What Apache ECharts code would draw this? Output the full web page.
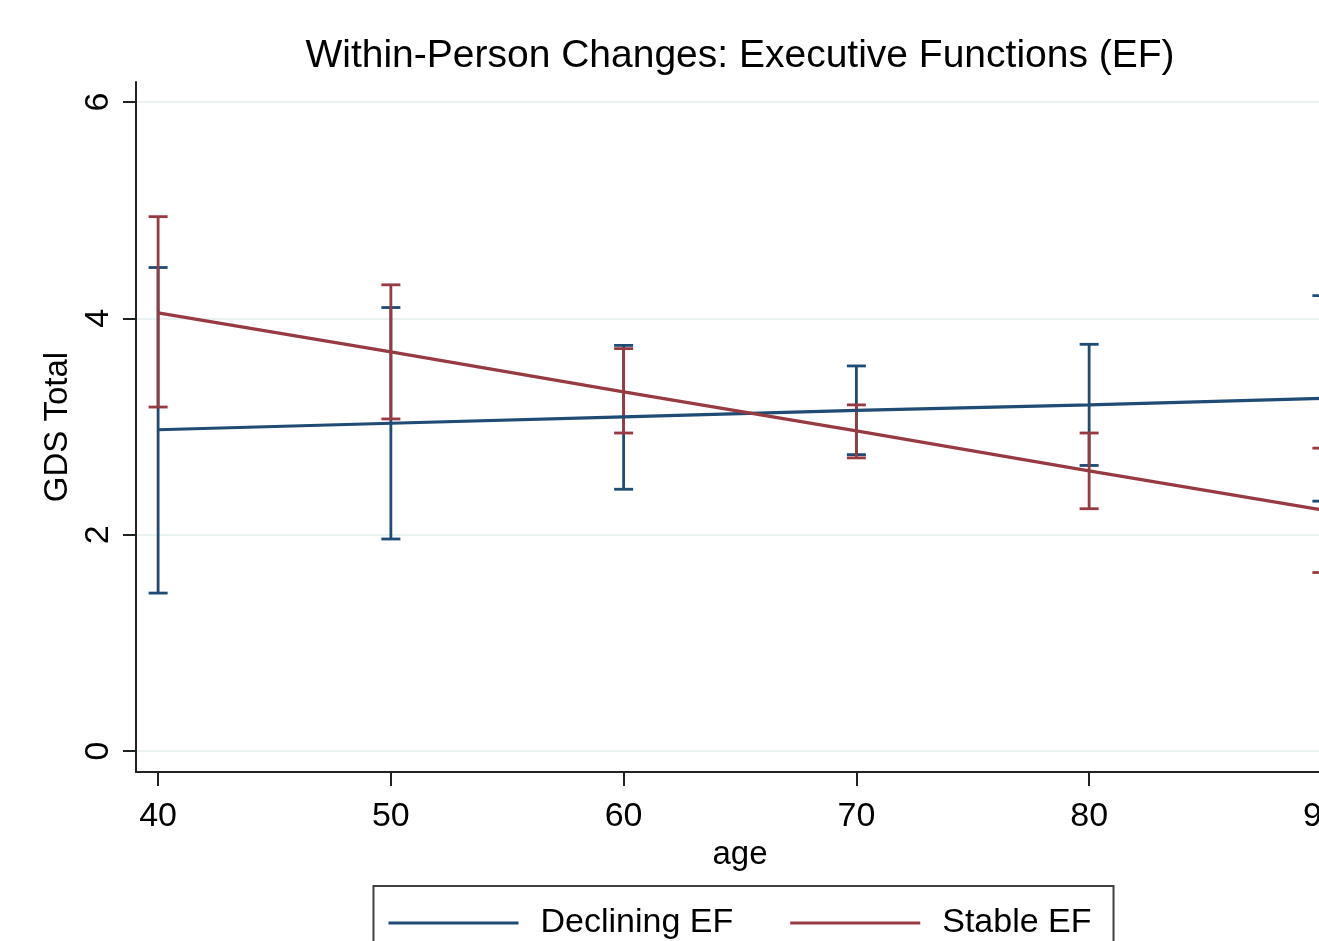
<!DOCTYPE html>
<html>
<head>
<meta charset="utf-8">
<script src="https://cdn.jsdelivr.net/npm/echarts@6/dist/echarts.min.js"></script>
<style>
html,body{margin:0;padding:0;overflow:hidden;background:#fff;width:1319px;height:941px;}
#chart{width:1480px;height:941px;}
</style>
</head>
<body>
<div id="chart"></div>
<script>
// ---- data ----
const ages = [40, 50, 60, 70, 80, 90];
const xTickLabels = [40, 50, 60, 70, 80, 90];
const yTickLabels = [0, 2, 4, 6];
const decliningFit = [2.97, 3.03, 3.09, 3.15, 3.20, 3.26];
const decliningLow = [1.46, 1.96, 2.42, 2.74, 2.64, 2.31];
const decliningHigh = [4.47, 4.10, 3.75, 3.56, 3.76, 4.21];
const stableFit = [4.05, 3.69, 3.32, 2.96, 2.59, 2.23];
const stableLow = [3.18, 3.07, 2.94, 2.71, 2.24, 1.65];
const stableHigh = [4.94, 4.31, 3.72, 3.20, 2.94, 2.80];

const BLUE = '#1f4b75';
const RED = '#973a42';
const FONT = '"Liberation Sans", Arial, sans-serif';

function pairs(xs, ys) { return xs.map((x, i) => [x, ys[i]]); }
function bars(xs, lo, hi) { return xs.map((x, i) => [x, lo[i], hi[i]]); }

function errRender(color) {
  return function (params, api) {
    const x = api.value(0);
    const lo = api.coord([x, api.value(1)]);
    const hi = api.coord([x, api.value(2)]);
    const hw = 9.5;
    const style = { stroke: color, lineWidth: 2.8, fill: null };
    return {
      type: 'group',
      children: [
        { type: 'line', shape: { x1: lo[0], y1: lo[1], x2: hi[0], y2: hi[1] }, style: style },
        { type: 'line', shape: { x1: lo[0] - hw, y1: lo[1], x2: lo[0] + hw, y2: lo[1] }, style: style },
        { type: 'line', shape: { x1: hi[0] - hw, y1: hi[1], x2: hi[0] + hw, y2: hi[1] }, style: style }
      ]
    };
  };
}

const chart = echarts.init(document.getElementById('chart'), null, { renderer: 'canvas' });
chart.setOption({
  animation: false,
  backgroundColor: '#fff',
  textStyle: { fontFamily: FONT },
  title: {
    text: 'Within-Person Changes: Executive Functions (EF)',
    left: 'center',
    top: 37,
    padding: 0,
    textStyle: { fontFamily: FONT, fontSize: 39, fontWeight: 'normal', color: '#000' }
  },
  grid: { left: 136, right: 136, top: 82, bottom: 169, containLabel: false },
  xAxis: {
    type: 'value',
    min: 39.05,
    max: 90.95,
    name: 'age',
    nameLocation: 'middle',
    nameGap: 62,
    nameTextStyle: { fontFamily: FONT, fontSize: 33, color: '#000' },
    axisLine: { show: true, onZero: false, lineStyle: { color: '#222', width: 2 } },
    axisTick: { show: true, length: 14, lineStyle: { color: '#222', width: 2 }, customValues: xTickLabels },
    axisLabel: { customValues: xTickLabels, margin: 28, fontFamily: FONT, fontSize: 34, color: '#000' },
    splitLine: { show: false }
  },
  yAxis: {
    type: 'value',
    min: -0.194,
    max: 6.185,
    name: 'GDS Total',
    nameLocation: 'middle',
    nameGap: 58,
    nameRotate: 90,
    nameTextStyle: { fontFamily: FONT, fontSize: 33, color: '#000' },
    axisLine: { show: true, onZero: false, lineStyle: { color: '#222', width: 2 } },
    axisTick: { show: true, length: 13, lineStyle: { color: '#222', width: 2 }, customValues: yTickLabels },
    axisLabel: { customValues: yTickLabels, rotate: 90, margin: 20, fontFamily: FONT, fontSize: 34, color: '#000' },
    splitLine: { show: true, lineStyle: { color: '#e4eeee', width: 1.5 } }
  },
  legend: {
    top: 886,
    left: 'center',
    orient: 'horizontal',
    padding: [20, 22, 40, 15],
    borderColor: '#404040',
    borderWidth: 2,
    borderRadius: 0,
    itemWidth: 130,
    itemHeight: 3,
    itemGap: 57,
    data: [
      { name: 'Declining EF', icon: 'rect', itemStyle: { color: BLUE } },
      { name: 'Stable EF', icon: 'rect', itemStyle: { color: RED } }
    ],
    textStyle: { fontFamily: FONT, fontSize: 34, color: '#000', padding: [0, 0, 0, 17] }
  },
  series: [
    {
      name: 'Declining EF', type: 'custom', renderItem: errRender(BLUE),
      data: bars(ages, decliningLow, decliningHigh), encode: { x: 0, y: [1, 2] }, z: 2, clip: true
    },
    {
      name: 'Stable EF', type: 'custom', renderItem: errRender(RED),
      data: bars(ages, stableLow, stableHigh), encode: { x: 0, y: [1, 2] }, z: 3, clip: true
    },
    {
      name: 'Declining EF', type: 'line', data: pairs(ages, decliningFit), showSymbol: false, symbol: 'none',
      lineStyle: { color: BLUE, width: 3.2 }, itemStyle: { color: BLUE }, z: 4
    },
    {
      name: 'Stable EF', type: 'line', data: pairs(ages, stableFit), showSymbol: false, symbol: 'none',
      lineStyle: { color: RED, width: 3.2 }, itemStyle: { color: RED }, z: 5
    }
  ]
});
</script>
</body>
</html>
